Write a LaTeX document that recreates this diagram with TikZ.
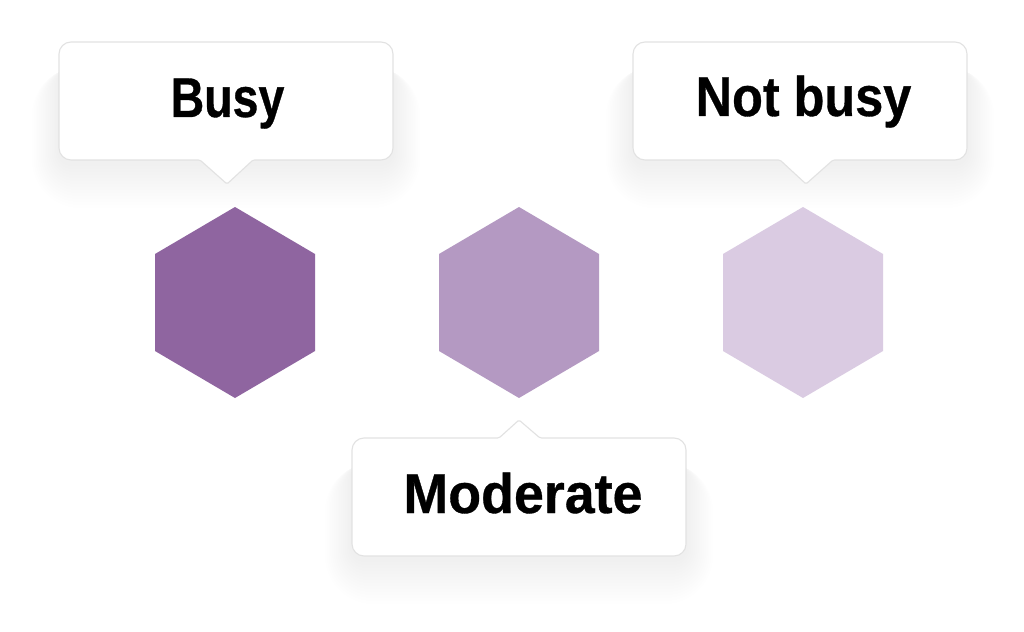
\documentclass[tikz,border=0pt]{standalone}
\usepackage{fontspec}
\newfontfamily\lab{Liberation Sans}[FakeStretch=0.9,FakeBold=0.6]
\newfontfamily\labn{Liberation Sans}[FakeStretch=0.83,FakeBold=0.6]
\newfontfamily\labw{Liberation Sans}[FakeStretch=0.96,FakeBold=0.6]
\definecolor{hexA}{HTML}{8F65A0}
\definecolor{hexB}{HTML}{B499C2}
\definecolor{hexC}{HTML}{DACBE2}
\definecolor{boxline}{HTML}{E2E2E2}
\tikzset{
  labeltext/.style={anchor=base, inner sep=0pt, font=\lab\bfseries\fontsize{56}{60}\selectfont, text=black},
  narrowlabel/.style={labeltext, font=\labn\bfseries\fontsize{56}{60}\selectfont},
  widelabel/.style={labeltext, font=\labw\bfseries\fontsize{56}{60}\selectfont},
  calloutbox/.style={fill=white, draw=boxline, line width=1.1pt},
  hexshape/.style={draw=none},
}
\newcommand\shadowbox[4]{%
  \foreach \i in {1,...,15} {
    \fill[black, opacity=0.004, rounded corners={12pt+\i*2.4pt}]
      (#1-\i*1.8, #2+25) rectangle (#3+\i*1.8, #4+3+\i*3);
  }%
}
\begin{document}
\begin{tikzpicture}[x=1pt, y=-1pt]
\useasboundingbox (0,0) rectangle (1024,631);
\fill[white] (0,0) rectangle (1024,631);

% shadows
\shadowbox{59}{42}{393}{160}
\shadowbox{633}{42}{967}{160}
\shadowbox{352}{438}{686}{556}

% hexagons
\foreach \cx/\col/\nm in {235/hexA/hbusy, 519/hexB/hmod, 803/hexC/hnot} {
  \coordinate (\nm) at (\cx,302.5);
  \fill[hexshape, fill=\col] (\cx,207) -- (\cx+80,254) -- (\cx+80,351) -- (\cx,398) -- (\cx-80,351) -- (\cx-80,254) -- cycle;
}

% callouts
\draw[calloutbox, rounded corners=12pt] (59,42) -- (393,42) -- (393,160) [rounded corners=1.5pt] -- (253,160) -- (227,184) -- (200,160) [rounded corners=12pt] -- (59,160) -- cycle;
\draw[calloutbox, rounded corners=12pt] (633,42) -- (967,42) -- (967,160) [rounded corners=1.5pt] -- (833,160) -- (806,184) -- (780,160) [rounded corners=12pt] -- (633,160) -- cycle;
\draw[calloutbox, rounded corners=12pt] (352,438) [rounded corners=1.5pt] -- (499,438) -- (519,420) -- (540,438) [rounded corners=12pt] -- (686,438) -- (686,556) -- (352,556) -- cycle;

% labels
\node[narrowlabel] (busy) at (227.5,117) {Busy};
\node[labeltext] (notbusy) at (803.5,116) {Not busy};
\node[widelabel] (moderate) at (523,513) {Moderate};
\end{tikzpicture}
\end{document}
